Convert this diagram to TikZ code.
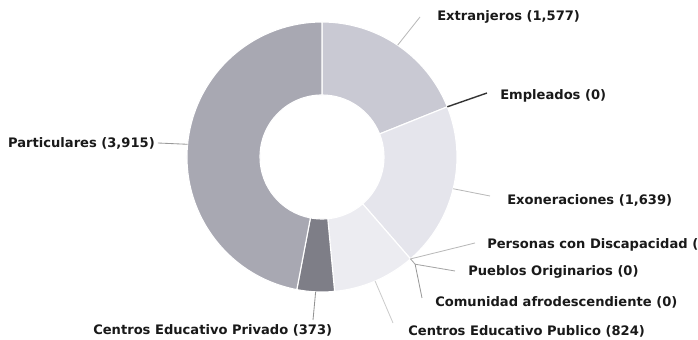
\documentclass[tikz,border=0pt]{standalone}
\usepackage{fontspec}
\setmainfont{DejaVu Sans}
\usetikzlibrary{positioning}
\usepackage{xcolor}
\definecolor{extGray}{HTML}{C9C9D3}
\definecolor{exoGray}{HTML}{E5E5EC}
\definecolor{pubGray}{HTML}{ECECF1}
\definecolor{priGray}{HTML}{7E7E87}
\definecolor{parGray}{HTML}{A8A8B2}

\begin{document}
\begin{tikzpicture}[x=0.025cm, y=-0.025cm]
                \tikzstyle{slice} = [draw=white, line width=0.8pt];
                \tikzstyle{slicetext} = [font=\bfseries\fontsize{9.3}{11}\selectfont, inner sep=0pt, text=black!90];
                \tikzstyle{leader} = [draw=gray!55, line width=0.6pt];

                \useasboundingbox (0,0) rectangle (698,340);

                % ring, clockwise from the top
                \begin{scope}[shift={(322,157)}]
                    \foreach \a/\b/\c in {-90/-21.83/extGray, -21.83/49.02/exoGray, 49.02/84.64/pubGray, 84.64/100.76/priGray, 100.76/270/parGray}
                        \fill[slice, fill=\c] (\a:135) arc[start angle=\a, end angle=\b, radius=135]
                            -- (\b:62) arc[start angle=\b, end angle=\a, radius=62] -- cycle;

                    \coordinate (pExt) at (-55.92:135);
                    \coordinate (pEmp) at (-21.83:135);
                    \coordinate (pExo) at (13.6:135);
                    \coordinate (pZero) at (49.02:135);
                    \coordinate (kZero) at (49.02:142);
                    \coordinate (pPub) at (66.83:135);
                    \coordinate (pPri) at (92.7:135);
                    \coordinate (pPar) at (185.4:135);
                \end{scope}

                \node[slicetext, anchor=west](lExt) at (437,17) {Extranjeros (1,577)};
                \node[slicetext, anchor=west](lEmp) at (500,96) {Empleados (0)};
                \node[slicetext, anchor=west](lExo) at (507,200) {Exoneraciones (1,639)};
                \node[slicetext, anchor=west](lPer) at (487,245) {Personas con Discapacidad (};
                \node[slicetext, anchor=west](lPue) at (468,272) {Pueblos Originarios (0)};
                \node[slicetext, anchor=west](lCom) at (435,302) {Comunidad afrodescendiente (0)};
                \node[slicetext, anchor=west](lPub) at (408,331) {Centros Educativo Publico (824)};
                \node[slicetext, anchor=west](lPri) at (93,330) {Centros Educativo Privado (373)};
                \node[slicetext, anchor=east](lPar) at (155,143) {Particulares (3,915)};

                \coordinate (eExt) at (420,17);
                \coordinate (eEmp) at (487,93);
                \coordinate (eExo) at (490,196);
                \coordinate (ePer) at (475,243);
                \coordinate (ePue) at (455,271);
                \coordinate (eCom) at (422,298);
                \coordinate (ePub) at (393,323);
                \coordinate (ePri) at (313,320);

                \draw[leader] (pExt) -- (eExt);
                \draw[leader, draw=black!80, line width=1pt] (pEmp) -- (eEmp);
                \draw[leader] (pExo) -- (eExo);
                \draw[leader] (pZero) -- (ePer);
                \draw[leader, draw=gray!70] (pZero) -- (kZero) -- (ePue);
                \draw[leader, draw=gray!80] (kZero) -- (eCom);
                \draw[leader, draw=gray!40] (pPub) -- (ePub);
                \draw[leader, draw=gray!85] (pPri) -- (ePri);
                \draw[leader, draw=gray!80] (pPar) -- ([xshift=2pt]lPar.east);
            \end{tikzpicture}
\end{document}
